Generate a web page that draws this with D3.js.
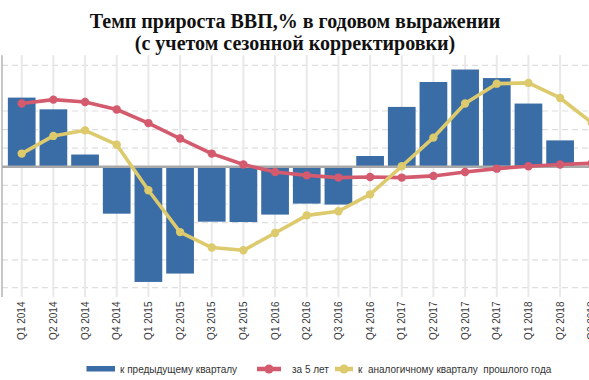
<!DOCTYPE html>
<html><head><meta charset="utf-8">
<script src="https://cdn.jsdelivr.net/npm/d3@7"></script>
<style>
html,body{margin:0;padding:0;background:#fff;overflow:hidden;}
svg{display:block;}
</style></head>
<body>
<svg id="c" width="589" height="380"></svg>
<script>
const categories = ["Q1 2014","Q2 2014","Q3 2014","Q4 2014","Q1 2015","Q2 2015","Q3 2015","Q4 2015","Q1 2016","Q2 2016","Q3 2016","Q4 2016","Q1 2017","Q2 2017","Q3 2017","Q4 2017","Q1 2018","Q2 2018","Q3 2018"];
const qoq = [3.72,3.09,0.66,-2.52,-6.19,-5.74,-2.95,-2.97,-2.57,-1.98,-2.03,0.58,3.22,4.56,5.23,4.77,3.40,1.42,null];
const fiveYear = [3.40,3.61,3.48,3.08,2.35,1.52,0.71,0.12,-0.28,-0.46,-0.58,-0.55,-0.58,-0.49,-0.28,-0.10,0.03,0.12,0.19];
const yoy = [0.71,1.66,1.96,1.19,-1.26,-3.51,-4.34,-4.49,-3.56,-2.61,-2.39,-1.48,0.03,1.57,3.40,4.47,4.51,3.70,2.37];
const gridValues = [5.45,3,2,1,-1,-2,-3,-5,-6.5];
const titleLines = ["Темп прироста ВВП,% в годовом выражении","(с учетом сезонной корректировки)"];
const legendLabels = ["к предыдущему кварталу","за 5 лет","к  аналогичному кварталу  прошлого года"];

const svg = d3.select("#c");
const x = d3.scaleBand().domain(categories).range([2, 611.5]).paddingInner(0.125).paddingOuter(0.185);
const y = d3.scaleLinear().domain([-7, 6]).range([297, 55.2]);
const cx = d => x(d) + x.bandwidth()/2;

// title
svg.selectAll("text.title").data(titleLines).join("text")
  .attr("class","title")
  .attr("x", 295).attr("y", (d,i)=> 28 + i*22)
  .attr("text-anchor","middle")
  .style("font-family","'Liberation Serif','Times New Roman',serif")
  .style("font-weight","bold").style("font-size","20px").attr("fill","#111")
  .text(d=>d);

// horizontal dashed grid
svg.append("g").selectAll("line").data(gridValues).join("line")
  .attr("x1", 2).attr("x2", 589)
  .attr("y1", d=>y(d)).attr("y2", d=>y(d))
  .attr("stroke","#dedede").attr("stroke-width",1.2).attr("stroke-dasharray","6,4");

// vertical grid
svg.append("g").selectAll("line").data(categories).join("line")
  .attr("x1", d=>cx(d)).attr("x2", d=>cx(d))
  .attr("y1", y(6)).attr("y2", y(-7))
  .attr("stroke","#e9e9e9").attr("stroke-width",2);

// left axis line
svg.append("line").attr("x1",2).attr("x2",2).attr("y1",y(6)).attr("y2",y(-7))
  .attr("stroke","#b5b5b5").attr("stroke-width",1.5);

// bars
const barData = categories.map((c,i)=>({c, v:qoq[i]})).filter(d=>d.v!==null);
svg.append("g").selectAll("rect").data(barData).join("rect")
  .attr("x", d=>x(d.c)).attr("width", x.bandwidth())
  .attr("y", d=>y(Math.max(0,d.v))).attr("height", d=>Math.abs(y(d.v)-y(0)))
  .attr("fill","#3a6ca6");

// zero line
svg.append("line").attr("x1",2).attr("x2",589).attr("y1",y(0)).attr("y2",y(0))
  .attr("stroke","#a9a9a9").attr("stroke-width",2.4);

function drawSeries(vals, color){
  const pts = categories.map((c,i)=>({c, v:vals[i]}));
  const line = d3.line().x(d=>cx(d.c)).y(d=>y(d.v));
  svg.append("path").datum(pts).attr("d", line)
    .attr("fill","none").attr("stroke",color).attr("stroke-width",3.6)
    .attr("stroke-linejoin","round").attr("stroke-linecap","round");
  svg.append("g").selectAll("circle").data(pts).join("circle")
    .attr("cx", d=>cx(d.c)).attr("cy", d=>y(d.v)).attr("r",4.2).attr("fill",color);
}
drawSeries(fiveYear, "#d45a6e");
drawSeries(yoy, "#dcca6c");

// x labels
svg.append("g").selectAll("text").data(categories).join("text")
  .attr("transform", d=>`translate(${cx(d)},301.5) rotate(-90)`)
  .attr("text-anchor","end").attr("dy","0.35em")
  .style("font-family","'Liberation Sans',Arial,sans-serif").style("font-size","10px")
  .attr("fill","#3a3a3a").text(d=>d);

// legend
const lg = svg.append("g").style("font-family","'Liberation Sans',Arial,sans-serif").style("font-size","10px");
lg.append("rect").attr("x",86.5).attr("y",366).attr("width",28.5).attr("height",5.5).attr("fill","#3a6ca6");
lg.append("text").attr("x",120).attr("y",373).attr("fill","#333").text(legendLabels[0]);
lg.append("line").attr("x1",257).attr("x2",281).attr("y1",369).attr("y2",369).attr("stroke","#d45a6e").attr("stroke-width",4.5);
lg.append("circle").attr("cx",269).attr("cy",369).attr("r",4.5).attr("fill","#d45a6e");
lg.append("text").attr("x",292).attr("y",373).attr("fill","#333").text(legendLabels[1]);
lg.append("line").attr("x1",335).attr("x2",353).attr("y1",369).attr("y2",369).attr("stroke","#dcca6c").attr("stroke-width",4.5);
lg.append("circle").attr("cx",344).attr("cy",369).attr("r",4.5).attr("fill","#dcca6c");
lg.append("text").attr("x",358).attr("y",373).attr("fill","#333").style("white-space","pre").attr("xml:space","preserve").text(legendLabels[2]);
</script>
</body></html>
